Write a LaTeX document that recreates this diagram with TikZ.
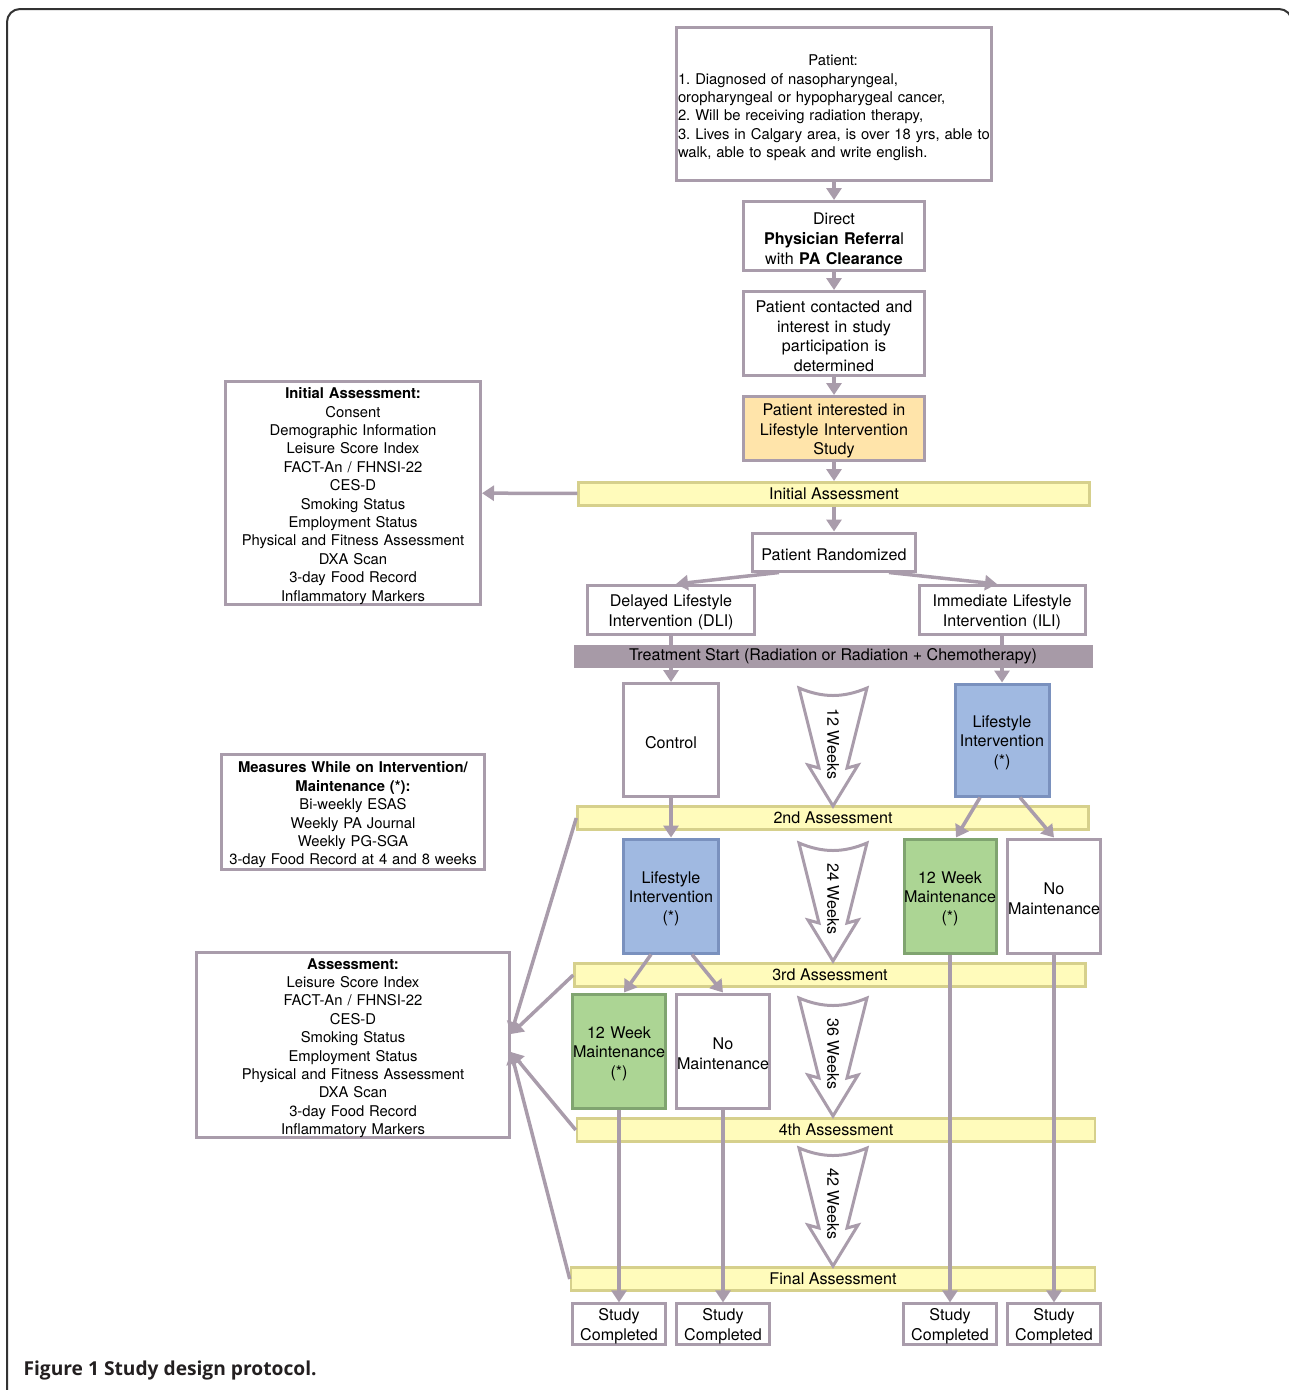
\documentclass[tikz,border=0pt]{standalone}
\usepackage{fontspec}
\setmainfont{TeX Gyre Heros}
\newfontfamily\capfont{Open Sans}
\usetikzlibrary{arrows.meta,positioning}
\definecolor{ln}{RGB}{169,156,171}
\definecolor{baryel}{RGB}{255,251,187}
\definecolor{barln}{RGB}{214,208,140}
\definecolor{trt}{RGB}{167,154,167}
\definecolor{blu}{RGB}{160,185,225}
\definecolor{bluln}{RGB}{122,145,190}
\definecolor{grn}{RGB}{172,213,148}
\definecolor{grnln}{RGB}{128,164,112}
\definecolor{org}{RGB}{255,228,170}
\definecolor{cap}{RGB}{35,31,32}
\frenchspacing
\begin{document}
\begin{tikzpicture}[x=1pt,y=-1pt,
    every node/.style={font=\fontsize{16.1}{19.7}\selectfont},
    small/.style={font=\fontsize{14.8}{18.4}\selectfont},
    box/.style={draw=ln, line width=3pt, fill=white, align=center, inner sep=0pt,
        text width=\pgfkeysvalueof{/pgf/minimum width},
        execute at begin node={\rule{0pt}{17pt}}},
    bluebox/.style={box, fill=blu, draw=bluln},
    greenbox/.style={box, fill=grn, draw=grnln},
    bar/.style={draw=barln, line width=2.5pt, fill=baryel, minimum height=23pt, inner sep=0pt},
    arr/.style={draw=ln, line width=3.5pt, -{Triangle[length=12pt,width=15pt]}},
    wk/.style={draw=ln, line width=3pt, fill=white, line join=miter}]
    \useasboundingbox (0,0) rectangle (1289,1390);
    \draw[line width=2pt, rounded corners=13pt, black!80] (7,9) rectangle (1292,1402);

    % recruitment
    \node[box, small, align=left, minimum width=315pt, minimum height=153pt] (pat) at (834,104)
        {\raisebox{-4pt}[\height][\depth]{\begin{tabular}{@{\hspace{1.5pt}}l@{}}\multicolumn{1}{@{}c@{}}{Patient:}\\
        1. Diagnosed of nasopharyngeal,\\
        oropharyngeal or hypopharygeal cancer,\\
        2. Will be receiving radiation therapy,\\
        3. Lives in Calgary area, is over 18 yrs, able to\\
        walk, able to speak and write english.\end{tabular}}};
    \node[box, minimum width=181pt, minimum height=69pt, below=18pt of pat] (ref)
        {Direct\\ \textbf{Physician Referra}l\\ with \textbf{PA Clearance}};
    \node[box, minimum width=181pt, minimum height=84pt, below=18pt of ref] (con)
        {Patient contacted and\\ interest in study\\ participation is\\ determined};
    \node[box, fill=org, minimum width=181pt, minimum height=64pt, below=18pt of con] (int)
        {Patient interested in\\ Lifestyle Intervention\\ Study};
    \node[bar, minimum width=511pt, below=19pt of int] (iabar) {Initial Assessment};
    \node[box, minimum width=163pt, minimum height=38pt, below=25pt of iabar] (rand) {Patient Randomized};
    \node[box, small, minimum width=255pt, minimum height=218pt] (iabox) at (353,493)
        {\textbf{Initial Assessment:}\\ Consent\\ Demographic Information\\ Leisure Score Index\\
        FACT-An / FHNSI-22\\ CES-D\\ Smoking Status\\ Employment Status\\
        Physical and Fitness Assessment\\ DXA Scan\\ 3-day Food Record\\ Inflammatory Markers};

    % groups
    \node[box, minimum width=167pt, minimum height=49pt] (dli) at (671,610) {Delayed Lifestyle\\ Intervention (DLI)};
    \node[box, minimum width=166pt, minimum height=49pt] (ili) at (1002,610) {Immediate Lifestyle\\ Intervention (ILI)};
    \node[box, minimum width=95pt, minimum height=113pt] (ctl) at (671,740) {Control};
    \node[bluebox, minimum width=94pt, minimum height=112pt] (lir) at (1002,740) {Lifestyle\\ Intervention\\ (*)};
    \node[bar, minimum width=511pt] (bar2) at (833,818) {2nd Assessment};
    \node[bluebox, minimum width=95pt, minimum height=114pt] (lil) at (671,896) {Lifestyle\\ Intervention\\ (*)};
    \node[greenbox, minimum width=92pt, minimum height=114pt] (mr) at (950,896) {12 Week\\ Maintenance\\ (*)};
    \node[box, minimum width=93pt, minimum height=114pt] (nmr) at (1054,896) {No\\ Maintenance};
    \node[bar, minimum width=511pt] (bar3) at (830,975) {3rd Assessment};
    \node[greenbox, minimum width=93pt, minimum height=114pt] (ml) at (619,1051) {12 Week\\ Maintenance\\ (*)};
    \node[box, minimum width=93pt, minimum height=114pt] (nml) at (723,1051) {No\\ Maintenance};
    \node[bar, minimum width=518pt] (bar4) at (836,1130) {4th Assessment};
    \node[bar, minimum width=524pt] (barF) at (833,1279) {Final Assessment};
    \node[box, minimum width=93pt, minimum height=36pt] (sc1) at (619,1324) {Study\\ Completed};
    \node[box, minimum width=93pt, minimum height=36pt] (sc2) at (723,1324) {Study\\ Completed};
    \node[box, minimum width=93pt, minimum height=36pt] (sc3) at (950,1324) {Study\\ Completed};
    \node[box, minimum width=93pt, minimum height=36pt] (sc4) at (1054,1324) {Study\\ Completed};

    % measures
    \node[box, small, minimum width=263pt, minimum height=115pt] (meas) at (353,812)
        {\textbf{Measures While on Intervention/}\\ \textbf{Maintenance (*):}\\ Bi-weekly ESAS\\
        Weekly PA Journal\\ Weekly PG-SGA\\ 3-day Food Record at 4 and 8 weeks};
    \node[box, small, minimum width=313pt, minimum height=180pt] (asm) at (353,1045)
        {\textbf{Assessment:}\\ Leisure Score Index\\ FACT-An / FHNSI-22\\ CES-D\\ Smoking Status\\
        Employment Status\\ Physical and Fitness Assessment\\ DXA Scan\\ 3-day Food Record\\ Inflammatory Markers};

    % weeks
    \foreach \t/\w in {688/12,843/24,998/36,1148/42}{
        \draw[wk, shift={(833,\t)}] (-34,0) .. controls (-10,10) and (10,10) .. (34,0)
            -- (14,80) -- (25,77) -- (0,118) -- (-25,77) -- (-14,80) -- cycle;
        \node[rotate=-90] (w\w) at (833,\t+56) {\w{} Weeks};
    }

    % connectors
    \draw[arr] (pat) -- (ref);
    \draw[arr] (ref) -- (con);
    \draw[arr] (con) -- (int);
    \draw[arr] (int) -- (iabar);
    \draw[arr] (iabar) -- (iabox);
    \draw[arr] (iabar) -- (rand);
    \draw[arr] ([xshift=-55pt]rand.south) -- ([xshift=5pt]dli.north);
    \draw[arr] ([xshift=55pt]rand.south) -- ([xshift=-5pt]ili.north);
    \draw[arr] (dli) -- (ctl);
    \draw[arr] (ili) -- (lir);
    \node[fill=trt, minimum width=519pt, minimum height=23pt, inner sep=0pt] (trt) at (833,656)
        {Treatment Start (Radiation or Radiation + Chemotherapy)};
    \draw[arr] (ctl) -- (lil);
    \draw[arr] ([xshift=-22pt]lir.south) -- ([xshift=6pt]mr.north);
    \draw[arr] ([xshift=18pt]lir.south) -- (nmr.north);
    \draw[arr] ([xshift=-20pt]lil.south) -- ([xshift=5pt]ml.north);
    \draw[arr] ([xshift=21pt]lil.south) -- (nml.north);
    \draw[arr] (ml) -- (sc1);
    \draw[arr] (nml) -- (sc2);
    \draw[arr] (mr) -- (sc3);
    \draw[arr] (nmr) -- (sc4);
    \coordinate (in1) at ([yshift=11pt]asm.east);
    \coordinate (in2) at ([yshift=-7pt]asm.east);
    \draw[arr] (bar2.west) -- (in1);
    \draw[arr] (bar3.west) -- (in1);
    \draw[arr] (bar4.west) -- (in2);
    \draw[arr] (barF.west) -- (in2);

    \node[anchor=west, text=cap, font=\capfont\bfseries\fontsize{19.2}{22}\selectfont] (caption) at (20,1370)
        {Figure 1 Study design protocol.};
\end{tikzpicture}
\end{document}
